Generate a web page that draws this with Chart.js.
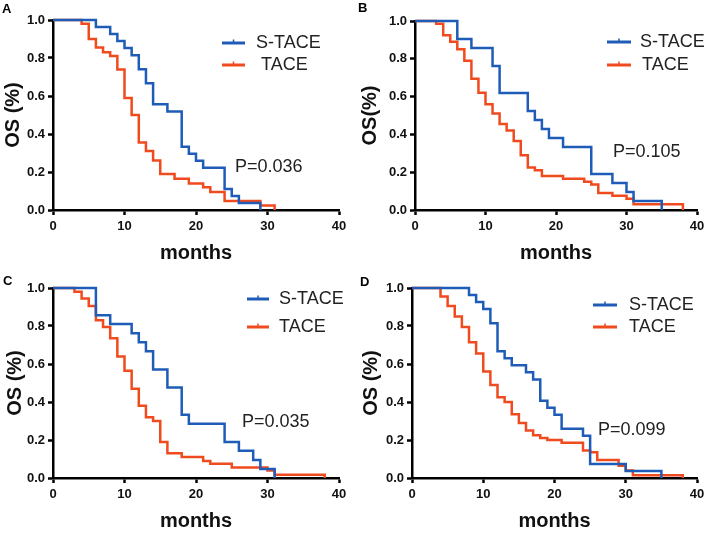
<!DOCTYPE html>
<html>
<head>
<meta charset="utf-8">
<title>OS: S-TACE vs TACE</title>
<script src="https://cdn.jsdelivr.net/npm/chart.js@4/dist/chart.umd.min.js"></script>
<style>
  html, body { margin: 0; padding: 0; background: #fff; }
  #figure { position: relative; width: 709px; height: 533px; overflow: hidden; }
  #figure canvas { position: absolute; }
</style>
</head>
<body>
<div id="figure">
  <canvas id="panelA" width="355" height="265" style="left:0;top:0;width:355px;height:265px"></canvas>
  <canvas id="panelB" width="354" height="265" style="left:355px;top:0;width:354px;height:265px"></canvas>
  <canvas id="panelC" width="355" height="268" style="left:0;top:265px;width:355px;height:268px"></canvas>
  <canvas id="panelD" width="354" height="268" style="left:355px;top:265px;width:354px;height:268px"></canvas>
</div>
<script>
  const seriesNames = ['S-TACE', 'TACE'];
  const monthTicks = [0, 10, 20, 30, 40];
  const osTicks = [0, 0.2, 0.4, 0.6, 0.8, 1.0];

  // panel A
  const aStaceMonths = [0, 6, 8, 9, 10, 11, 12, 13, 14, 16, 18, 19, 20, 21, 24, 25, 26, 29];
  const aStaceOS = [1, 0.963, 0.926, 0.889, 0.852, 0.815, 0.741, 0.667, 0.556, 0.519, 0.333, 0.296, 0.259, 0.222, 0.111, 0.074, 0.037, 0];
  const aTaceMonths = [0, 4, 5, 6, 7, 8, 9, 10, 11, 12, 13, 14, 15, 17, 19, 21, 22, 24, 29, 31];
  const aTaceOS = [1, 0.98, 0.9, 0.855, 0.83, 0.81, 0.74, 0.59, 0.5, 0.355, 0.31, 0.26, 0.19, 0.165, 0.14, 0.12, 0.095, 0.048, 0.024, 0];

  // panel B
  const bStaceMonths = [0, 6, 8, 11, 12, 16, 17, 18, 19, 21, 25, 28, 30, 31, 35];
  const bStaceOS = [1, 0.905, 0.857, 0.762, 0.619, 0.524, 0.476, 0.429, 0.381, 0.333, 0.19, 0.143, 0.095, 0.048, 0];
  const bTaceMonths = [0, 3, 4, 5, 6, 7, 8, 9, 10, 11, 12, 13, 14, 15, 16, 17, 18, 21, 24, 25, 26, 28, 30, 31, 38];
  const bTaceOS = [1, 0.985, 0.925, 0.89, 0.85, 0.79, 0.695, 0.62, 0.56, 0.51, 0.455, 0.42, 0.365, 0.29, 0.225, 0.21, 0.18, 0.165, 0.15, 0.135, 0.09, 0.075, 0.06, 0.03, 0];

  // panel C
  const cStaceMonths = [0, 6, 8, 11, 12, 13, 14, 16, 18, 19, 24, 26, 28, 29, 31];
  const cStaceOS = [1, 0.857, 0.81, 0.762, 0.714, 0.667, 0.571, 0.476, 0.333, 0.286, 0.19, 0.143, 0.095, 0.048, 0];
  const cTaceMonths = [0, 3, 4, 5, 6, 7, 8, 9, 10, 11, 12, 13, 14, 15, 16, 18, 21, 22, 25, 30, 31, 38];
  const cTaceOS = [1, 0.98, 0.945, 0.905, 0.83, 0.795, 0.735, 0.64, 0.565, 0.47, 0.38, 0.32, 0.3, 0.19, 0.13, 0.11, 0.09, 0.075, 0.055, 0.04, 0.017, 0];

  // panel D
  const dStaceMonths = [0, 8, 9, 10, 11, 12, 13, 14, 16, 17, 18, 19, 20, 21, 24, 25, 30, 35];
  const dStaceOS = [1, 0.963, 0.926, 0.889, 0.815, 0.667, 0.63, 0.593, 0.556, 0.519, 0.407, 0.37, 0.333, 0.259, 0.222, 0.074, 0.037, 0];
  const dTaceMonths = [0, 4, 5, 6, 7, 8, 9, 10, 11, 12, 13, 14, 15, 16, 17, 18, 19, 21, 24, 25, 26, 29, 30, 31, 38];
  const dTaceOS = [1, 0.955, 0.905, 0.85, 0.795, 0.715, 0.655, 0.56, 0.49, 0.425, 0.4, 0.335, 0.29, 0.25, 0.225, 0.21, 0.2, 0.185, 0.145, 0.135, 0.095, 0.065, 0.04, 0.015, 0];

  const pValues = ['P=0.036', 'P=0.105', 'P=0.035', 'P=0.099'];

  const FONT = '"Liberation Sans", Arial, Helvetica, sans-serif';
  const BLUE = '#1f5cb8';
  const RED = '#f04b1f';

  const panels = [
    {
      id: 'panelA', letter: 'A', yTitle: 'OS (%)', p: pValues[0],
      staceMonths: aStaceMonths, staceOS: aStaceOS, taceMonths: aTaceMonths, taceOS: aTaceOS,
      area: { left: 53, right: 339, top: 20, bottom: 210 },
      yTitlePad: 1, xTitlePad: 0,
      letterAt: [2, 9],
      legend: { x: 222, lineLen: 23, textX: [256, 261], y: [43, 65] },
      pAt: [235, 167],
    },
    {
      id: 'panelB', letter: 'B', yTitle: 'OS(%)', p: pValues[1],
      staceMonths: bStaceMonths, staceOS: bStaceOS, taceMonths: bTaceMonths, taceOS: bTaceOS,
      area: { left: 60, right: 342, top: 21, bottom: 210 },
      yTitlePad: 3, xTitlePad: 0,
      letterAt: [3, 8],
      legend: { x: 252, lineLen: 24, textX: [285, 287], y: [42, 65] },
      pAt: [258, 152],
    },
    {
      id: 'panelC', letter: 'C', yTitle: 'OS (%)', p: pValues[2],
      staceMonths: cStaceMonths, staceOS: cStaceOS, taceMonths: cTaceMonths, taceOS: cTaceOS,
      area: { left: 53, right: 339, top: 23, bottom: 213 },
      yTitlePad: 3, xTitlePad: 0,
      letterAt: [3, 16],
      legend: { x: 247, lineLen: 22, textX: [279, 279], y: [34, 62] },
      pAt: [242, 157],
    },
    {
      id: 'panelD', letter: 'D', yTitle: 'OS (%)', p: pValues[3],
      staceMonths: dStaceMonths, staceOS: dStaceOS, taceMonths: dTaceMonths, taceOS: dTaceOS,
      area: { left: 57, right: 342, top: 23, bottom: 213 },
      yTitlePad: 4, xTitlePad: 0,
      letterAt: [5, 17],
      legend: { x: 238, lineLen: 24, textX: [274, 274], y: [40, 62] },
      pAt: [243, 165],
    },
  ];

  function toPoints(months, os) {
    return months.map((m, i) => ({ x: m, y: os[i] }));
  }

  // letter, legend and p value drawn on top of the plot
  function annotations(panel) {
    return {
      id: 'annotations',
      afterDraw(chart) {
        const ctx = chart.ctx;
        const lg = panel.legend;
        const colors = [BLUE, RED];
        ctx.save();
        ctx.textBaseline = 'middle';
        ctx.textAlign = 'left';

        ctx.fillStyle = '#000';
        ctx.font = 'bold 13px ' + FONT;
        ctx.fillText(panel.letter, panel.letterAt[0], panel.letterAt[1]);

        ctx.font = '18px ' + FONT;
        seriesNames.forEach((name, i) => {
          const y = lg.y[i];
          ctx.strokeStyle = colors[i];
          ctx.lineWidth = 3;
          ctx.beginPath();
          ctx.moveTo(lg.x, y);
          ctx.lineTo(lg.x + lg.lineLen, y);
          ctx.stroke();
          ctx.lineWidth = 1.5;
          ctx.beginPath();
          ctx.moveTo(lg.x + lg.lineLen / 2, y - 3.5);
          ctx.lineTo(lg.x + lg.lineLen / 2, y);
          ctx.stroke();
          ctx.fillStyle = '#222';
          ctx.fillText(name, lg.textX[i], y);
        });

        ctx.fillStyle = '#222';
        ctx.fillText(panel.p, panel.pAt[0], panel.pAt[1]);
        ctx.restore();
      },
    };
  }

  function drawPanel(panel) {
    const canvas = document.getElementById(panel.id);
    const w = canvas.width;
    const h = canvas.height;
    const area = panel.area;
    const tickFont = { family: FONT, size: 13, weight: 'bold' };
    const titleFont = { family: FONT, size: 20, weight: 'bold' };
    const gridOpts = {
      display: true,
      drawOnChartArea: false,
      drawTicks: true,
      tickLength: 5,
      tickWidth: 2.5,
      tickColor: '#000',
      color: '#000',
    };
    const borderOpts = { display: true, color: '#000', width: 2.5 };

    new Chart(canvas, {
      type: 'line',
      data: {
        datasets: [
          {
            label: seriesNames[0],
            data: toPoints(panel.staceMonths, panel.staceOS),
            borderColor: BLUE,
          },
          {
            label: seriesNames[1],
            data: toPoints(panel.taceMonths, panel.taceOS),
            borderColor: RED,
          },
        ],
      },
      options: {
        responsive: false,
        animation: false,
        devicePixelRatio: 1,
        layout: { padding: { left: 0, top: area.top, right: w - area.right, bottom: 0 } },
        plugins: { legend: { display: false }, tooltip: { enabled: false } },
        datasets: { line: { stepped: 'before', clip: 4, borderWidth: 2.5, pointRadius: 0, fill: false } },
        scales: {
          x: {
            type: 'linear',
            min: 0,
            max: 40,
            afterBuildTicks: (s) => { s.ticks = monthTicks.map((v) => ({ value: v })); },
            afterFit: (s) => { s.height = h - area.bottom; },
            ticks: { font: tickFont, color: '#111', padding: 4, maxRotation: 0, autoSkip: false },
            grid: gridOpts,
            border: borderOpts,
            title: { display: true, text: 'months', font: titleFont, color: '#111', padding: { top: 0, bottom: panel.xTitlePad } },
          },
          y: {
            min: 0,
            max: 1,
            afterBuildTicks: (s) => { s.ticks = osTicks.map((v) => ({ value: v })); },
            afterFit: (s) => { s.width = area.left; },
            ticks: { font: tickFont, color: '#111', padding: 3, autoSkip: false, callback: (v) => Number(v).toFixed(1) },
            grid: gridOpts,
            border: borderOpts,
            title: { display: true, text: panel.yTitle, font: titleFont, color: '#111', padding: { top: panel.yTitlePad, bottom: 0 } },
          },
        },
      },
      plugins: [annotations(panel)],
    });
  }

  panels.forEach(drawPanel);
</script>
</body>
</html>
